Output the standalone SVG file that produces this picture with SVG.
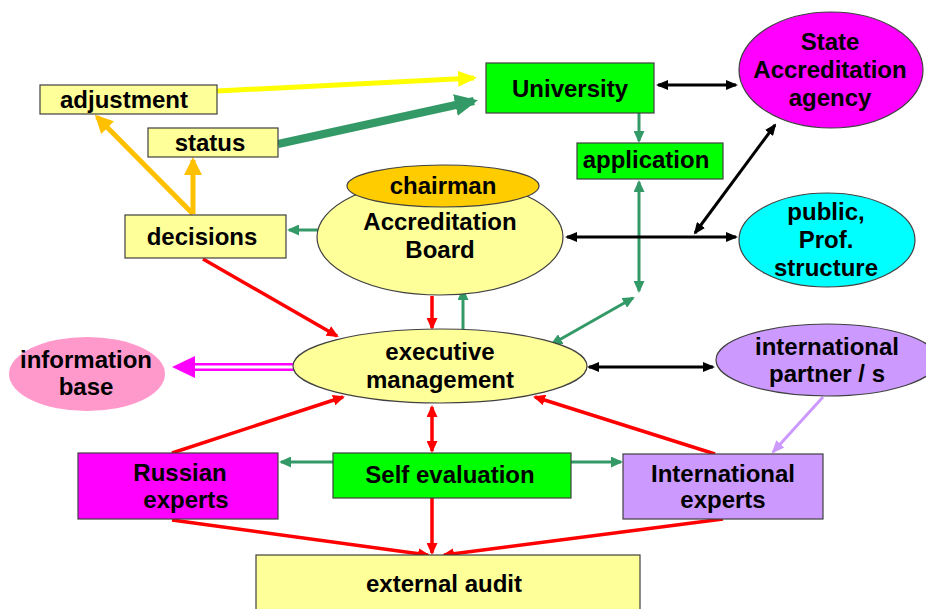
<svg xmlns="http://www.w3.org/2000/svg" width="926" height="609" viewBox="0 0 926 609">
<style>
text{font-family:"Liberation Sans",Arial,sans-serif;font-weight:bold;font-size:24px;text-anchor:middle;fill:#000}
.nd{stroke:#404040;stroke-width:1.2}
.ln{fill:none}
.red{stroke:#FF0000;stroke-width:3.5}
.grn{stroke:#339966;stroke-width:3}
.blk{stroke:#000;stroke-width:3}
</style>
<defs>
<marker id="mR" viewBox="0 0 12 11" refX="10" refY="5.5" markerWidth="12" markerHeight="11" markerUnits="userSpaceOnUse" orient="auto-start-reverse"><path d="M0,0 L12,5.5 L0,11 z" fill="#FF0000"/></marker>
<marker id="mG" viewBox="0 0 12 11" refX="10" refY="5.5" markerWidth="12" markerHeight="11" markerUnits="userSpaceOnUse" orient="auto-start-reverse"><path d="M0,0 L12,5.5 L0,11 z" fill="#339966"/></marker>
<marker id="mK" viewBox="0 0 12 10" refX="10" refY="5" markerWidth="12" markerHeight="10" markerUnits="userSpaceOnUse" orient="auto-start-reverse"><path d="M0,0 L12,5 L0,10 z" fill="#000"/></marker>
<marker id="mL" viewBox="0 0 13 11" refX="11" refY="5.5" markerWidth="13" markerHeight="11" markerUnits="userSpaceOnUse" orient="auto"><path d="M0,0 L13,5.5 L0,11 z" fill="#CC99FF"/></marker>
<marker id="mO" viewBox="0 0 18 18" refX="15" refY="9" markerWidth="18" markerHeight="18" markerUnits="userSpaceOnUse" orient="auto"><path d="M0,0 L18,9 L0,18 z" fill="#FFC000"/></marker>
<marker id="mY" viewBox="0 0 19 16" refX="16" refY="8" markerWidth="19" markerHeight="16" markerUnits="userSpaceOnUse" orient="auto"><path d="M0,0 L19,8 L0,16 z" fill="#FFFF00"/></marker>
<marker id="mGB" viewBox="0 0 23 22" refX="19" refY="11" markerWidth="23" markerHeight="22" markerUnits="userSpaceOnUse" orient="auto"><path d="M0,0 L23,11 L0,22 z" fill="#339966"/></marker>
</defs>

<g id="connectors">
  <!-- top left -->
  <line class="ln" x1="217" y1="91" x2="474" y2="78" stroke="#FFFF00" stroke-width="5" marker-end="url(#mY)"/>
  <line class="ln" x1="278" y1="144" x2="474" y2="101" stroke="#339966" stroke-width="8" marker-end="url(#mGB)"/>
  <line class="ln" x1="193" y1="214" x2="193" y2="160" stroke="#FFC000" stroke-width="5" marker-end="url(#mO)"/>
  <line class="ln" x1="193" y1="214" x2="97" y2="117" stroke="#FFC000" stroke-width="5" marker-end="url(#mO)"/>
  <line class="ln grn" x1="318" y1="230" x2="289" y2="230" marker-end="url(#mG)"/>
  <!-- university / application -->
  <line class="ln grn" x1="639" y1="113" x2="639" y2="141" marker-end="url(#mG)"/>
  <line class="ln grn" x1="639" y1="182" x2="639" y2="291" marker-start="url(#mG)" marker-end="url(#mG)"/>
  <line class="ln grn" x1="633" y1="298" x2="552" y2="344" marker-start="url(#mG)" marker-end="url(#mG)"/>
  <!-- black -->
  <line class="ln blk" x1="658" y1="85" x2="736" y2="85" marker-start="url(#mK)" marker-end="url(#mK)"/>
  <line class="ln blk" x1="567" y1="237" x2="736" y2="237" marker-start="url(#mK)" marker-end="url(#mK)"/>
  <line class="ln blk" x1="695" y1="233" x2="775" y2="125" marker-start="url(#mK)" marker-end="url(#mK)"/>
  <line class="ln blk" x1="589" y1="367" x2="713" y2="367" marker-start="url(#mK)" marker-end="url(#mK)"/>
  <!-- board / exec -->
  <line class="ln red" x1="432" y1="296" x2="432" y2="328" marker-end="url(#mR)"/>
  <line class="ln grn" x1="463" y1="329" x2="463" y2="290" marker-end="url(#mG)"/>
  <line class="ln red" x1="203" y1="259" x2="337" y2="336" marker-end="url(#mR)"/>
  <!-- info base -->
  <line x1="294" y1="367" x2="192" y2="367" stroke="#FF00FF" stroke-width="8"/>
  <line x1="296" y1="367" x2="192" y2="367" stroke="#FFFFFF" stroke-width="3"/>
  <path d="M172,367 L195,356 L195,378 z" fill="#FF00FF"/>
  <!-- partner -->
  <line class="ln" x1="823" y1="397" x2="773" y2="452" stroke="#CC99FF" stroke-width="3" marker-end="url(#mL)"/>
  <!-- experts to exec -->
  <line class="ln red" x1="172" y1="453" x2="343" y2="397" marker-end="url(#mR)"/>
  <line class="ln red" x1="715" y1="454" x2="535" y2="397" marker-end="url(#mR)"/>
  <line class="ln red" x1="432" y1="407" x2="432" y2="451" marker-start="url(#mR)" marker-end="url(#mR)"/>
  <!-- self evaluation -->
  <line class="ln grn" x1="333" y1="462" x2="281" y2="462" marker-end="url(#mG)"/>
  <line class="ln grn" x1="571" y1="462" x2="621" y2="462" marker-end="url(#mG)"/>
  <!-- audit -->
  <line class="ln red" x1="432" y1="498" x2="432" y2="553" marker-end="url(#mR)"/>
  <line class="ln red" x1="172" y1="520" x2="428" y2="555" marker-end="url(#mR)"/>
  <line class="ln red" x1="723" y1="519" x2="444" y2="555" marker-end="url(#mR)"/>
</g>

<g id="adjustment"><rect class="nd" x="40" y="85" width="177" height="29" fill="#FFFF99"/><text x="124" y="108">adjustment</text></g>
<g id="status"><rect class="nd" x="148" y="128" width="130" height="29" fill="#FFFF99"/><text x="210" y="151">status</text></g>
<g id="decisions"><rect class="nd" x="125" y="215" width="161" height="43" fill="#FFFF99"/><text x="202" y="245">decisions</text></g>
<g id="university"><rect class="nd" x="486" y="63" width="168" height="50" fill="#00FF00"/><text x="570" y="97">University</text></g>
<g id="application"><rect class="nd" x="577" y="143" width="146" height="36" fill="#00FF00"/><text x="646" y="168">application</text></g>
<g id="state-agency"><ellipse class="nd" cx="831" cy="70" rx="92" ry="58" fill="#FF00FF"/><text x="830" y="50">State</text><text x="830" y="78">Accreditation</text><text x="830" y="106">agency</text></g>
<g id="accreditation-board"><ellipse class="nd" cx="440" cy="237" rx="123" ry="58" fill="#FFFF99"/><text x="440" y="230">Accreditation</text><text x="440" y="258">Board</text></g>
<g id="chairman"><ellipse class="nd" cx="443" cy="186" rx="96" ry="21" fill="#FFCC00"/><text x="443" y="194">chairman</text></g>
<g id="public"><ellipse class="nd" cx="827" cy="240" rx="88" ry="47" fill="#00FFFF"/><text x="826" y="220">public,</text><text x="826" y="248">Prof.</text><text x="826" y="276">structure</text></g>
<g id="executive-management"><ellipse class="nd" cx="440" cy="366" rx="147" ry="37" fill="#FFFF99"/><text x="440" y="360">executive</text><text x="440" y="388">management</text></g>
<g id="information-base"><ellipse cx="87" cy="374" rx="78" ry="37" fill="#FF99CC"/><text x="86" y="368">information</text><text x="86" y="395">base</text></g>
<g id="international-partner"><ellipse class="nd" cx="827" cy="360" rx="111" ry="36" fill="#CC99FF"/><text x="827" y="355">international</text><text x="827" y="382">partner / s</text></g>
<g id="russian-experts"><rect class="nd" x="78" y="453" width="200" height="66" fill="#FF00FF"/><text x="180" y="481">Russian</text><text x="186" y="508">experts</text></g>
<g id="self-evaluation"><rect class="nd" x="333" y="453" width="238" height="45" fill="#00FF00"/><text x="450" y="483">Self evaluation</text></g>
<g id="international-experts"><rect class="nd" x="623" y="454" width="200" height="65" fill="#CC99FF"/><text x="723" y="482">International</text><text x="723" y="508">experts</text></g>
<g id="external-audit"><rect class="nd" x="256" y="555" width="384" height="60" fill="#FFFF99"/><text x="444" y="592">external audit</text></g>
</svg>
